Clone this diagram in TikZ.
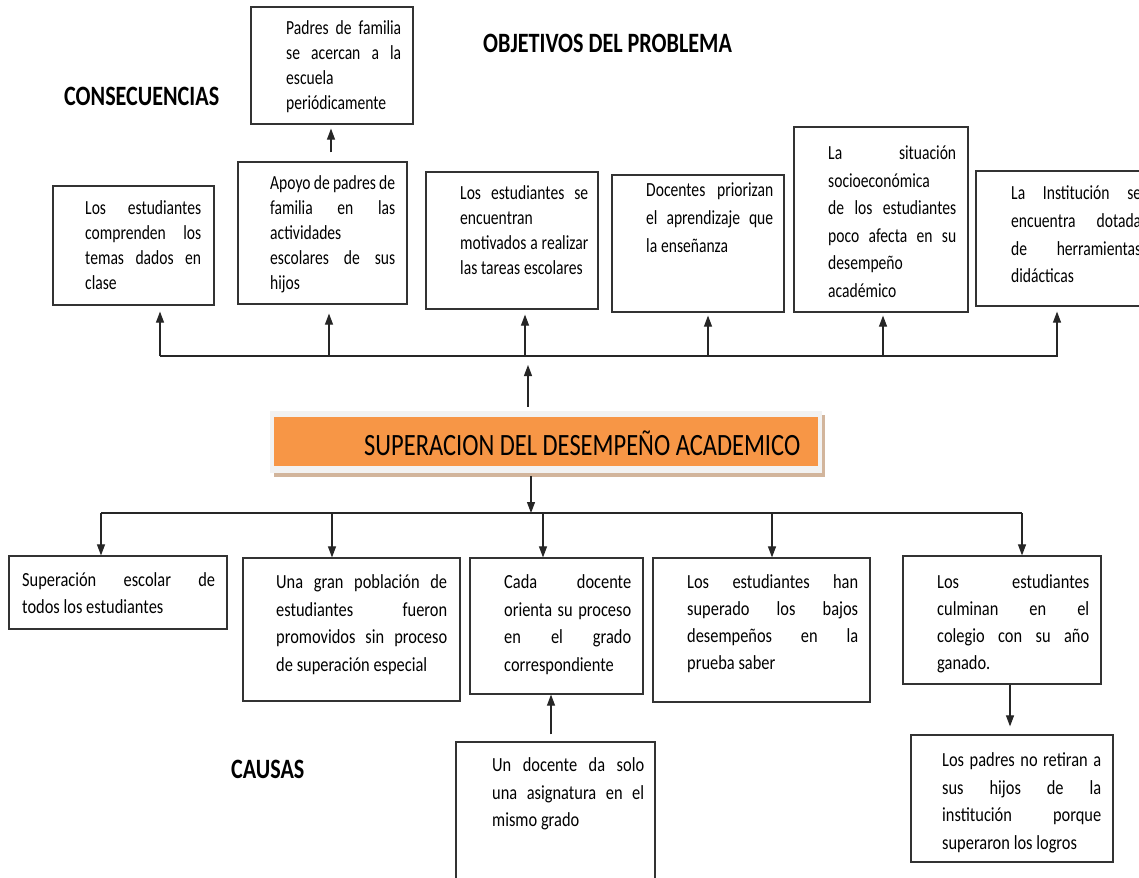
\documentclass[tikz,border=0pt]{standalone}
\usepackage{fontspec}
\setmainfont{Carlito}[FakeStretch=0.79]
\newfontfamily\boxfont{Carlito}[FakeStretch=0.78]
\newfontfamily\boxfontb{Carlito}[FakeStretch=0.82]
\usetikzlibrary{arrows.meta,calc,fit}
\definecolor{orangef}{HTML}{F79646}
\definecolor{shadowc}{HTML}{D2B59C}
\definecolor{framec}{HTML}{F2F2F2}
\newlength{\jlw}
\newcommand{\curbox}{\boxfont}
% justified line
\newcommand{\jl}[1]{\leavevmode\hbox to \jlw{\spaceskip=3.4pt plus 1fil minus 1.5pt\relax #1}\\}
% left-aligned line
\newcommand{\lline}[1]{\leavevmode\hbox to \jlw{\spaceskip=3.8pt\relax #1\hfil}\\}
\newcommand{\tb}[8]{%
  \node[boxst, fit={(#2) (#3)}] (#1) {};
  \pgfmathsetmacro{\tbw}{#5-#4}%
  \setlength{\jlw}{\tbw pt}%
  \node[txt, text width=\tbw pt, font=\curbox\fontsize{20}{#7}\selectfont, anchor=north west] (#1t) at (#4,#6-9.5) {\leavevmode\rule{0pt}{16pt}#8};
}
\begin{document}
\begin{tikzpicture}[x=1pt,y=-1pt,
  boxst/.style={draw=black!80, line width=1.2pt, inner sep=0pt, rectangle},
  txt/.style={inner sep=0pt, align=left},
  head/.style={inner sep=0pt, font=\fontsize{28}{28}\selectfont\bfseries, anchor=base west},
  conn/.style={draw=black!85, line width=1.1pt},
  arr/.style={conn, -{Triangle[length=11pt,width=8pt]}}]
\useasboundingbox (0,0) rectangle (1139,877);
\clip (0,0) rectangle (1139,877);
\fill[white] (0,0) rectangle (1139,877);

% headers
\node[head] (hcons) at (64,106) {CONSECUENCIAS};
\node[head] (hobj) at (483,53) {OBJETIVOS DEL PROBLEMA};
\node[head] (hcaus) at (231,778) {CAUSAS};

% top boxes
\tb{p}{251,7}{413,124}{286}{401}{28}{25}{\jl{Padres de familia}\jl{se acercan a la}\lline{escuela}\lline{periódicamente}}
\tb{t1}{53,186}{214,305}{85}{201}{208}{25}{\jl{Los estudiantes}\jl{comprenden los}\jl{temas dados en}\lline{clase}}
\tb{t2}{238,162}{407,304}{270}{395}{183}{25}{\jl{Apoyo de padres de}\jl{familia en las}\lline{actividades}\jl{escolares de sus}\lline{hijos}}
\tb{t3}{426,172}{598,309}{460}{588}{193}{25}{\jl{Los estudiantes se}\lline{encuentran}\jl{motivados a realizar}\lline{las tareas escolares}}
\tb{t4}{612,175}{784,312}{646}{773}{190}{28}{\jl{Docentes priorizan}\jl{el aprendizaje que}\lline{la enseñanza}}
\tb{t5}{794,127}{968,312}{828}{956}{153}{27.5}{\jl{La situación}\lline{socioeconómica}\jl{de los estudiantes}\jl{poco afecta en su}\lline{desempeño}\lline{académico}}
\tb{t6}{976,171}{1160,306}{1011}{1141}{193}{27.7}{\jl{La Institución se}\jl{encuentra dotada}\jl{de herramientas}\lline{didácticas}}

% central box
\fill[shadowc] (274,415) rectangle (825,477);
\node[fill=framec, inner sep=0pt, fit={(270,411) (822,473)}] (core) {};
\fill[orangef] (274,417) rectangle (818,466);
\node[inner sep=0pt, anchor=base west, font=\fontsize{31}{31}\selectfont] (coret) at (364,455) {SUPERACION DEL DESEMPEÑO ACADEMICO};

% bottom boxes
\renewcommand{\curbox}{\boxfontb}
\tb{b1}{9,556}{227,629}{22}{215}{580}{27}{\jl{Superación escolar de}\lline{todos los estudiantes}}
\tb{b2}{243,558}{460,701}{276}{447}{582}{27.5}{\jl{Una gran población de}\jl{estudiantes fueron}\jl{promovidos sin proceso}\lline{de superación especial}}
\tb{b3}{470,558}{643,694}{504}{631}{582}{27.5}{\jl{Cada docente}\jl{orienta su proceso}\jl{en el grado}\lline{correspondiente}}
\tb{b4}{653,558}{870,702}{687}{858}{582}{27}{\jl{Los estudiantes han}\jl{superado los bajos}\jl{desempeños en la}\lline{prueba saber}}
\tb{b5}{903,556}{1101,684}{937}{1089}{582}{27}{\jl{Los estudiantes}\jl{culminan en el}\jl{colegio con su año}\lline{ganado.}}
\tb{b6}{911,735}{1113,862}{942}{1101}{760}{27.5}{\jl{Los padres no retiran a}\jl{sus hijos de la}\jl{institución porque}\lline{superaron los logros}}
\tb{b7}{456,742}{655,900}{492}{644}{765}{27.5}{\jl{Un docente da solo}\jl{una asignatura en el}\lline{mismo grado}}

% top connectors
\coordinate (hl) at (160,356);
\coordinate (hr) at (1058,356);
\draw[conn] (hl) -- (hr);
\coordinate (a1) at (160,356);
\coordinate (a2) at (329,356);
\coordinate (a3) at (525,356);
\coordinate (a4) at (708,356);
\coordinate (a5) at (883,356);
\coordinate (a6) at (1057,356);
\draw[arr] (a1) -- ($(a1 |- t1.south)+(0,6)$);
\draw[arr] (a2) -- ($(a2 |- t2.south)+(0,9)$);
\draw[arr] (a3) -- ($(a3 |- t3.south)+(0,5)$);
\draw[arr] (a4) -- ($(a4 |- t4.south)+(0,3)$);
\draw[arr] (a5) -- ($(a5 |- t5.south)+(0,3)$);
\draw[arr] (a6) -- ($(a6 |- t6.south)+(0,5)$);
\coordinate (pa) at (331,0);
\draw[arr] ($(pa |- t2.north)+(0,-9)$) -- ($(pa |- p.south)+(0,4)$);
\coordinate (cu) at (528,356);
\draw[arr] ($(cu |- core.north)+(0,-4)$) -- ($(cu)+(0,9)$);

% bottom connectors
\coordinate (cd) at (531,513);
\coordinate (bl) at (101,513);
\coordinate (br) at (1022,513);
\draw[conn] (bl) -- (br);
\draw[arr] ($(cd |- core.south)+(0,3)$) -- (cd);
\coordinate (d1) at (101,513);
\coordinate (d2) at (332,513);
\coordinate (d3) at (543,513);
\coordinate (d4) at (772,513);
\coordinate (d5) at (1022,513);
\draw[arr] (d1) -- (d1 |- b1.north);
\draw[arr] (d2) -- (d2 |- b2.north);
\draw[arr] (d3) -- (d3 |- b3.north);
\draw[arr] (d4) -- (d4 |- b4.north);
\draw[arr] (d5) -- (d5 |- b5.north);
\coordinate (xc) at (551,0);
\draw[arr] ($(xc |- b7.north)+(0,-7)$) -- (xc |- b3.south);
\coordinate (xr) at (1010,0);
\draw[arr] (xr |- b5.south) -- ($(xr |- b6.north)+(0,-8)$);
\end{tikzpicture}
\end{document}
